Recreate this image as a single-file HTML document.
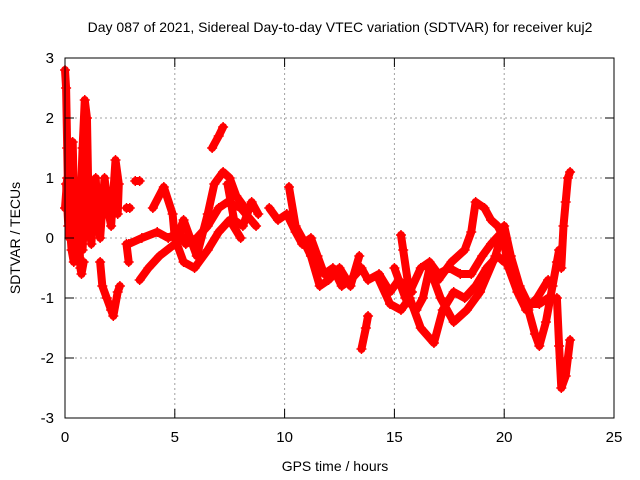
<!DOCTYPE html>
<html><head><meta charset="utf-8"><style>
body{margin:0;background:#fff}
svg{display:block;font-family:"Liberation Sans",sans-serif}
</style></head><body>
<svg id="chart" width="640" height="480" xmlns="http://www.w3.org/2000/svg">
<rect width="640" height="480" fill="#fff"/>
<text x="340" y="32" text-anchor="middle" font-size="14">Day 087 of 2021, Sidereal Day-to-day VTEC variation (SDTVAR) for receiver kuj2</text>
<text x="335" y="471" text-anchor="middle" font-size="14">GPS time / hours</text>
<text transform="translate(20,238) rotate(-90)" text-anchor="middle" font-size="14">SDTVAR / TECUs</text>
<g id="grid"></g>
<g id="marks"></g>
<rect x="65" y="58" width="549" height="360" fill="none" stroke="#000" stroke-width="1"/>
<g id="ticks"></g>
</svg>
<script>
const xTicks=[0,5,10,15,20,25];
const yTicks=[-3,-2,-1,0,1,2,3];
const tracks=[
[[0,2.8],[0.05,2.5],[0.1,1.5],[0.15,0.5],[0.2,0.0],[0.3,1.2],[0.35,1.6],[0.4,0.8],[0.5,-0.3],[0.6,-0.2],[0.7,0.5],[0.8,1.5],[0.9,2.3],[1.0,2.0],[1.05,1.0],[1.1,0.3],[1.2,-0.1],[1.3,0.5]],
[[0,0.5],[0.1,1.0],[0.2,0.3],[0.3,-0.2],[0.4,-0.4],[0.5,-0.3],[0.6,0.3],[0.7,0.0],[0.8,-0.2],[0.9,0.6],[1.0,0.5]],
[[0.05,0.9],[0.15,0.2],[0.25,1.6],[0.45,0.1],[0.55,0.9],[0.7,-0.5],[0.75,-0.6],[0.85,-0.4]],
[[1.2,0.6],[1.4,1.0],[1.5,0.2],[1.6,0.0],[1.7,0.5],[1.8,1.0],[1.9,0.7],[2.0,0.4],[2.1,0.2],[2.3,1.3],[2.45,0.9],[2.4,0.4]],
[[1.6,-0.4],[1.7,-0.8],[1.9,-1.0],[2.1,-1.2],[2.2,-1.3],[2.4,-0.9],[2.5,-0.8]],
[[2.8,-0.1],[2.9,-0.4]],[[2.8,0.5],[2.95,0.5]],[[3.2,0.95],[3.4,0.95]],
[[3.4,-0.7],[3.8,-0.5],[4.3,-0.3],[5.0,-0.1],[5.4,0.3],[5.7,0.0],[6.0,-0.3],[6.5,0.4],[6.8,0.9],[7.2,1.1],[7.5,1.0],[7.8,0.7],[8.2,0.5],[8.6,0.5]],
[[2.9,-0.1],[3.5,0.0],[4.2,0.1],[4.7,0.0],[5.2,0.1],[5.5,-0.1],[6.0,0.0],[6.5,0.2],[7.0,0.5],[7.4,0.6],[8.0,0.5],[8.7,0.2]],
[[4.0,0.5],[4.5,0.85],[4.9,0.4],[5.0,0.0],[5.4,-0.4],[5.9,-0.5],[6.5,-0.2],[7.0,0.1],[7.5,0.3],[8.0,0.0]],
[[6.7,1.5],[7.0,1.7],[7.2,1.85]],
[[7.4,0.9],[7.7,0.3],[8.1,0.2],[8.5,0.6],[8.8,0.4]],
[[9.3,0.5],[9.7,0.3],[10.1,0.4],[10.5,0.1],[10.8,-0.1],[11.2,0.0],[11.5,-0.3],[11.8,-0.6],[12.2,-0.5],[12.6,-0.8],[13.0,-0.7],[13.5,-0.5],[13.8,-0.7],[14.3,-0.6],[14.8,-0.9],[15.2,-0.7],[15.7,-0.9],[16.2,-0.5],[16.6,-0.4],[17.0,-0.6],[17.5,-0.5],[18.0,-0.6],[18.5,-0.6],[19.0,-0.3],[19.4,-0.1],[19.9,0.1],[20.2,-0.5],[20.6,-0.9],[21.0,-1.2],[21.5,-1.0],[22.0,-0.7]],
[[10.2,0.85],[10.5,0.2],[10.8,0.0],[11.2,-0.3],[11.6,-0.8],[12.0,-0.7],[12.5,-0.5],[13.0,-0.8],[13.4,-0.3]],
[[14.3,-0.7],[14.8,-1.1],[15.3,-1.2],[15.7,-1.0],[16.2,-1.5],[16.8,-1.75],[17.2,-1.2],[17.7,-0.9],[18.2,-1.0],[18.7,-0.8],[19.2,-0.5],[19.7,-0.3],[20.0,-0.4]],
[[15.0,-0.5],[15.5,-1.0],[16.0,-1.2],[16.3,-1.0],[16.6,-0.5],[17.1,-1.0],[17.7,-1.4],[18.3,-1.2],[18.9,-0.9],[19.6,-0.3],[20.0,0.2],[20.3,-0.3],[20.7,-0.8],[21.1,-1.1],[21.6,-1.1],[22.0,-1.0]],
[[17.0,-0.7],[17.6,-0.4],[18.2,-0.2],[18.5,0.1],[18.7,0.6],[19.1,0.5],[19.4,0.3],[19.7,0.2],[20.0,0.0],[20.4,-0.6]],
[[13.5,-1.85],[13.7,-1.5],[13.8,-1.3]],
[[15.3,0.05],[15.4,-0.2],[15.6,-0.7],[15.8,-0.9]],
[[21.1,-1.2],[21.4,-1.6],[21.6,-1.8],[21.9,-1.4],[22.2,-0.8],[22.4,-0.4],[22.5,-0.2]],
[[22.4,-1.0],[22.5,-1.8],[22.6,-2.5],[22.8,-2.3],[22.9,-2.0],[23.0,-1.7]],
[[22.6,-0.5],[22.7,0.2],[22.8,0.6],[22.9,1.0],[23.0,1.1]]
];
const X=h=>65+h*(549/25);
const Y=v=>238-v*60;
const NS='http://www.w3.org/2000/svg';
const grid=document.getElementById('grid'),ticks=document.getElementById('ticks'),marks=document.getElementById('marks');
function mk(tag,attrs,parent){const e=document.createElementNS(NS,tag);for(const k in attrs)e.setAttribute(k,attrs[k]);parent.appendChild(e);return e;}
xTicks.forEach(t=>{const x=X(t);
 if(t>0&&t<25){const g=mk('line',{x1:x,x2:x,y1:58,y2:418,stroke:'#a0a0a0','stroke-dasharray':'2,3'},grid);}
 const a=mk('line',{x1:x,x2:x,y1:418,y2:409,stroke:'#000'},ticks);
 const b=mk('line',{x1:x,x2:x,y1:58,y2:67,stroke:'#000'},ticks);
 const l=mk('text',{x:x,y:442,'text-anchor':'middle','font-size':15},ticks);l.textContent=t;});
yTicks.forEach(t=>{const y=Y(t);
 if(t>-3&&t<3){const g=mk('line',{x1:65,x2:614,y1:y,y2:y,stroke:'#a0a0a0','stroke-dasharray':'2,3'},grid);}
 const a=mk('line',{x1:65,x2:74,y1:y,y2:y,stroke:'#000'},ticks);
 const b=mk('line',{x1:605,x2:614,y1:y,y2:y,stroke:'#000'},ticks);
 const l=mk('text',{x:54,y:y+5,'text-anchor':'end','font-size':15},ticks);l.textContent=t;});
tracks.forEach(tr=>{
 const p=mk('polyline',{points:tr.map(d=>X(d[0])+','+Y(d[1])).join(' '),fill:'none',stroke:'#f00','stroke-width':8,'stroke-linejoin':'round','stroke-linecap':'round'},marks);
 
 
 tr.forEach(d=>{const x=X(d[0]),y=Y(d[1]);
  const m=mk('path',{d:`M${x-5},${y}h10M${x},${y-5}v10`,stroke:'#f00','stroke-width':1.5},marks);
  
  });
});
</script>
</body></html>
